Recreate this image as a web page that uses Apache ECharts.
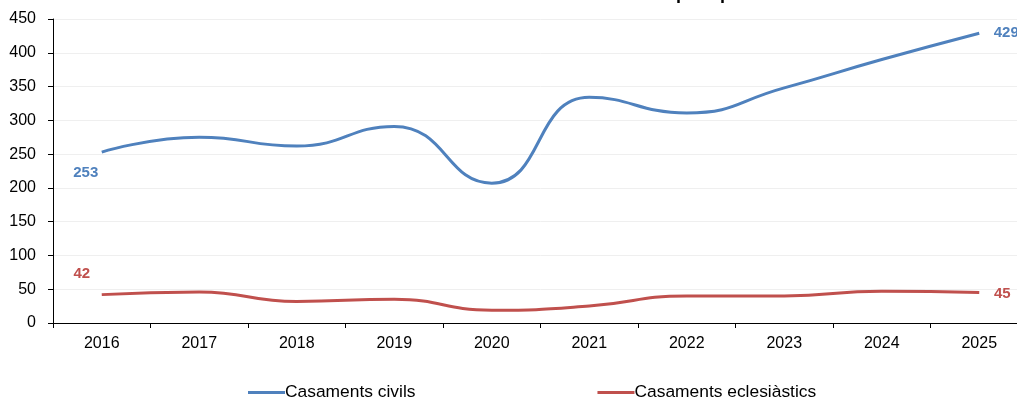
<!DOCTYPE html>
<html>
<head>
<meta charset="utf-8">
<script src="https://cdn.jsdelivr.net/npm/echarts@6/dist/echarts.min.js"></script>
<style>
html,body{margin:0;padding:0;background:#fff;overflow:hidden;}
#main{width:1028px;height:401px;}
</style>
</head>
<body>
<div id="main"></div>
<script>
const titleText = 'Evolució del nombre de casaments per tipus';
const years = ['2016','2017','2018','2019','2020','2021','2022','2023','2024','2025'];
const civils = [253, 275, 262, 291, 207, 334, 311, 348, 390, 429];
const eclesiastics = [42, 46, 32, 35, 19, 25, 40, 40, 47, 45];
const seriesNames = ['Casaments civils', 'Casaments eclesiàstics'];
const colors = ['#4F81BD', '#C0504D'];
const FONT = 'Liberation Sans, Arial, sans-serif';

function withEndLabels(arr, color, firstOffset, lastOffset) {
  return arr.map((v, i) => {
    if (i === 0 || i === arr.length - 1) {
      return {
        value: v,
        label: {
          show: true,
          position: 'inside',
          offset: i === 0 ? firstOffset : lastOffset,
          color: color,
          fontWeight: 'bold',
          fontSize: 15,
          fontFamily: FONT,
          formatter: '{c}'
        }
      };
    }
    return v;
  });
}

const chart = echarts.init(document.getElementById('main'));
chart.setOption({
  animation: false,
  title: {
    text: titleText,
    left: 556,
    textAlign: 'center',
    top: -20,
    textStyle: {fontSize: 18, fontWeight: 'bold', color: '#000', fontFamily: FONT}
  },
  grid: {left: 53, right: 0, top: 19, bottom: 78, containLabel: false},
  legend: {
    bottom: -5,
    left: 243,
    itemWidth: 37,
    itemHeight: 3,
    itemGap: 182,
    icon: 'rect',
    textStyle: {fontSize: 17.4, color: '#000', fontFamily: FONT, padding: [0,0,0,-5]},
    data: seriesNames
  },
  xAxis: {
    type: 'category',
    data: years,
    boundaryGap: true,
    axisLine: {lineStyle: {color: '#000', width: 1}},
    axisTick: {show: true, length: 5, lineStyle: {color: '#000'}},
    axisLabel: {color: '#000', fontSize: 16, margin: 13, fontFamily: FONT}
  },
  yAxis: {
    type: 'value',
    min: 0, max: 450, interval: 50,
    axisLine: {show: true, lineStyle: {color: '#000', width: 1}},
    axisTick: {show: true, length: 5, lineStyle: {color: '#000'}},
    axisLabel: {color: '#000', fontSize: 16, margin: 17, fontFamily: FONT},
    splitLine: {show: true, lineStyle: {color: '#efefef', width: 1}}
  },
  series: [
    {
      name: seriesNames[0],
      type: 'line',
      smooth: 0.5,
      symbol: 'circle',
      symbolSize: 0,
      showSymbol: true,
      lineStyle: {color: colors[0], width: 3},
      itemStyle: {color: colors[0]},
      data: withEndLabels(civils, colors[0], [-16, 21], [27, 0])
    },
    {
      name: seriesNames[1],
      type: 'line',
      smooth: 0.5,
      symbol: 'circle',
      symbolSize: 0,
      showSymbol: true,
      lineStyle: {color: colors[1], width: 3},
      itemStyle: {color: colors[1]},
      data: withEndLabels(eclesiastics, colors[1], [-20, -21], [23, 1])
    }
  ]
});
</script>
</body>
</html>
